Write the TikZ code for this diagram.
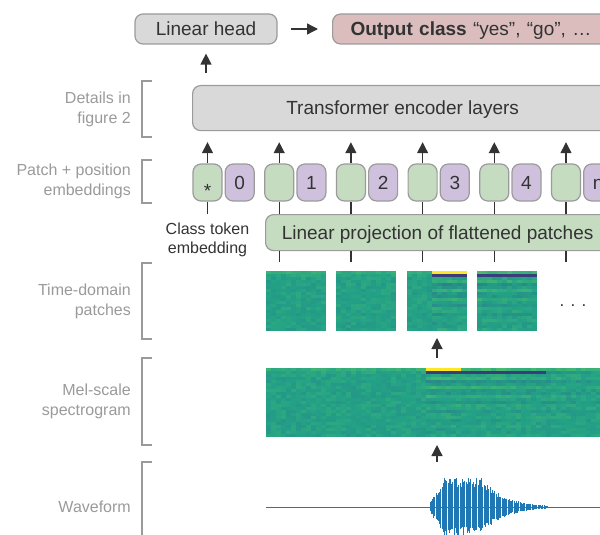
\documentclass[tikz,border=0pt]{standalone}
\usepackage{fontspec}
\setmainfont{Liberation Sans}
\usetikzlibrary{arrows,arrows.meta,shapes,positioning,calc}

\definecolor{boxgray}{HTML}{D9D9D9}
\definecolor{edgegray}{HTML}{9B9B9B}
\definecolor{tokgreen}{HTML}{C5DCC1}
\definecolor{tokpurple}{HTML}{CFC1DE}
\definecolor{outpink}{HTML}{DBBDBE}
\definecolor{inkc}{HTML}{333333}
\definecolor{labelgray}{HTML}{9A9A9A}
\definecolor{specMid}{HTML}{23A186}
\definecolor{specDeep}{HTML}{2F6B8E}
\definecolor{specLight}{HTML}{5AC864}
\definecolor{specYellow}{HTML}{FDE725}
\definecolor{specDark}{HTML}{3E2A72}
\definecolor{specBlue}{HTML}{33658D}
\definecolor{waveblue}{HTML}{1F77B4}

\tikzset{
  box/.style={draw=edgegray, line width=1.2pt, rounded corners=8pt, text=inkc,
    font=\fontsize{19}{23}\selectfont, text height=13.6pt, text depth=0pt, inner sep=0pt},
  graybox/.style={box, fill=boxgray},
  greenbox/.style={box, fill=tokgreen},
  tokg/.style={box, fill=tokgreen, minimum width=29pt, minimum height=37pt},
  tokp/.style={box, fill=tokpurple, minimum width=29pt, minimum height=37pt},
  arr/.style={draw=inkc, line width=1.3pt, -{Triangle[length=11pt,width=11pt]}},
  conn/.style={draw=inkc, line width=1.3pt},
  brk/.style={draw=labelgray, line width=1.3pt},
  sidelabel/.style={text=labelgray, font=\fontsize{16}{20}\selectfont, align=right, anchor=east, inner sep=0pt},
}

% spectrogram cells: x0, y0, columns, rows, onset column
\newcommand{\specgram}[5]{%
  \foreach \ci in {1,...,#3}{%
    \foreach \ri in {1,...,#4}{%
      \pgfmathtruncatemacro{\dx}{\ci-1-(#5)}%
      \pgfmathsetmacro{\val}{0.4*(rnd-0.5)+0.3*(\ri==1)+0.1*(\ri==2)}%
      \ifnum\dx<0 \else
        \pgfmathsetmacro{\val}{\val+0.6*sin(\ri*111+40)*max(0.1,1-\dx/50)*max(0.2,1-\ri/24)}%
      \fi
      \ifdim\val pt<0pt
        \pgfmathtruncatemacro{\pc}{min(100,-100*\val)}\colorlet{cellc}{specDeep!\pc!specMid}%
      \else
        \pgfmathtruncatemacro{\pc}{min(100,100*\val)}\colorlet{cellc}{specLight!\pc!specMid}%
      \fi
      \ifnum\dx>-1
        \ifnum\ri=1 \ifnum\dx<7 \colorlet{cellc}{specYellow}\fi\fi
        \ifnum\ri=2 \ifnum\dx<24 \colorlet{cellc}{specDark!70!specBlue}\fi\fi
      \fi
      \fill[cellc] ({#1+5*(\ci-1)},{#2+3*(\ri-1)}) rectangle ++(5.3,3.3);
    }%
  }%
}

\begin{document}
\begin{tikzpicture}[x=1pt, y=-1pt]
  \pgfmathsetseed{7}
  \useasboundingbox (0,0) rectangle (600,535);
  \clip (0,0) rectangle (600,535);

  % top row
  \node[graybox, minimum width=142pt, minimum height=30pt] (head) at (206,29) {Linear head};
  \node[box, fill=outpink, anchor=west, minimum height=30pt, text width=280pt, align=left, inner xsep=18pt] (out) at (332,29)
    {\textbf{Output class} “yes”, “go”, …};
  \draw[arr, shorten <=13pt, shorten >=14pt] (head) -- (out);

  \node[graybox, anchor=north west, minimum width=420pt, minimum height=45pt] (enc) at (192,85) {Transformer encoder layers};
  \draw[arr, shorten <=12pt, shorten >=9pt] (enc.north -| head) -- (head);

  % tokens
  \foreach \k/\num in {0/0,1/1,2/2,3/3,4/4,5/n}{
    \node[tokg] (g\k) at ({207.5+71.7*\k},182.5) {\ifnum\k=0 \raisebox{-8.5pt}{*}\fi};
    \node[tokp, right=2pt of g\k] (p\k) {\num};
    \draw[arr, shorten >=11pt] (g\k) -- (g\k |- enc.south);
  }

  \node[greenbox, anchor=north west, minimum width=344pt, minimum height=36pt] (proj) at (265,214) {Linear projection of flattened patches};
  \foreach \k in {1,...,5}{
    \draw[conn] (g\k) -- (g\k |- proj.north);
    \draw[conn] (g\k |- proj.south) -- ++(0,11);
  }

  \node[text=inkc, font=\fontsize{16}{19}\selectfont, align=center, inner sep=0pt, below=21pt of g0] (cls) {Class token\\embedding};
  \draw[conn, shorten >=9pt] (g0) -- (cls);

  % side labels
  \foreach \top/\bot/\txt [count=\i] in {81/137/{Details in\\figure 2}, 160/203/{Patch + position\\embeddings},
      263/339/{Time-domain\\patches}, 358/445/{Mel-scale\\spectrogram}, 462/552/{Waveform}}{
    \draw[brk] (152,\top) -- (142,\top) -- (142,\bot) -- (152,\bot);
    \node[sidelabel] (side\i) at (131,{(\top+\bot)/2}) {\txt};
  }

  % spectrogram and patches
  \specgram{266}{368}{67}{23}{32}
  \foreach \px/\on in {266/99,336/99,407/5,477/-9}{
    \specgram{\px}{271}{12}{20}{\on}
  }
  \node[text=inkc, font=\fontsize{17}{20}\selectfont, anchor=base] (dots) at (573,306) {. . .};

  \coordinate (patchS) at (437,330);
  \coordinate (melN) at (437,368);
  \coordinate (melS) at (437,437);
  \coordinate (waveN) at (437,462);
  \draw[arr, shorten <=10pt, shorten >=8pt] (melN) -- (patchS);
  \draw[arr, shorten >=8pt] (waveN) -- (melS);

  % waveform
  \draw[waveblue, line width=0.7pt] (266,507) -- (600,507);
  \foreach \x in {430,431.2,...,548}{
    \pgfmathsetmacro{\amp}{\x<445 ? 6+24*(\x-430)/15 : (\x<482 ? 30 : 30*exp(-(\x-482)/22))}
    \draw[waveblue, line width=1pt] (\x,{507-\amp*(0.65+0.35*rnd)}) -- (\x,{507+\amp*(0.65+0.35*rnd)});
  }
\end{tikzpicture}
\end{document}
